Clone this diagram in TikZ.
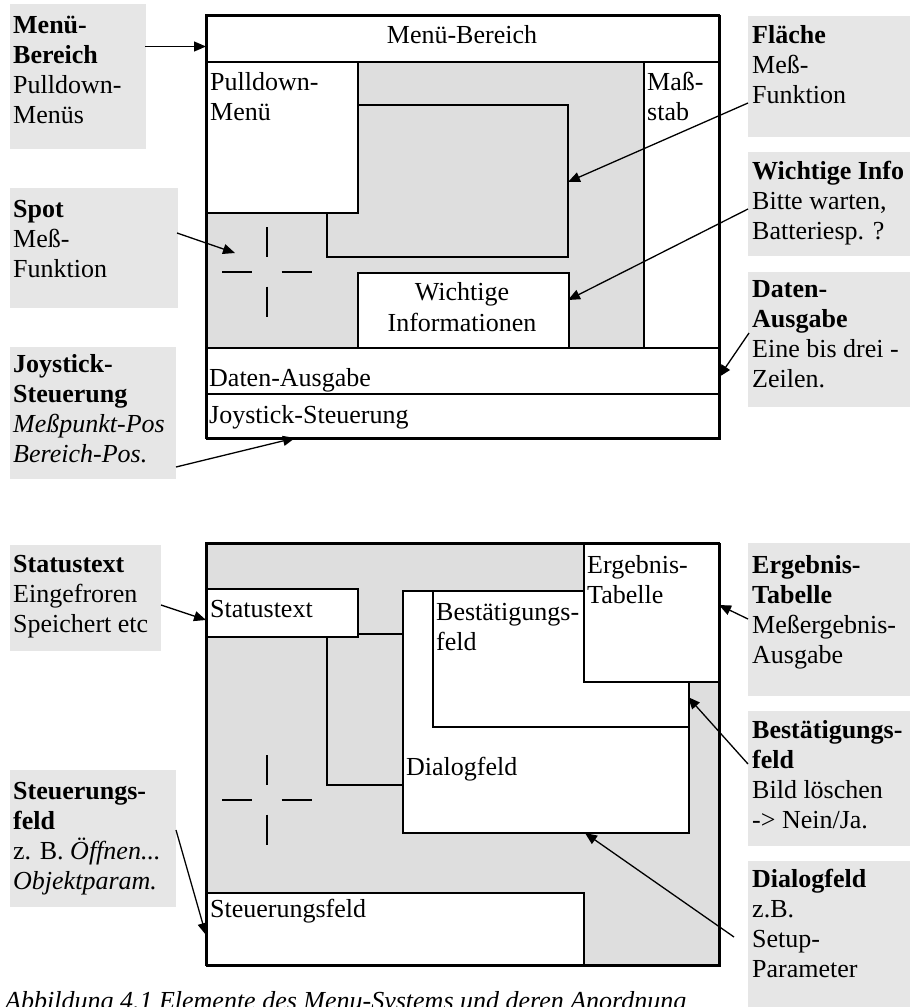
\documentclass[tikz,border=0pt]{standalone}
\usepackage{fontspec}
\setmainfont{Liberation Serif}
\usetikzlibrary{arrows.meta}
\definecolor{dgray}{HTML}{DEDEDE}
\definecolor{lgray}{HTML}{E6E6E6}
\begin{document}
\begin{tikzpicture}[x=1pt,y=-1pt,
  txt/.style={font=\fontsize{26}{30}\selectfont, inner sep=0pt, align=left, anchor=base west},
  ctxt/.style={font=\fontsize{26}{31}\selectfont, inner sep=0pt, align=center, anchor=base},
  wbox/.style={draw, line width=1.8pt, fill=white, inner sep=0pt, anchor=north west},
  gbox/.style={draw, line width=1.8pt, fill=dgray, inner sep=0pt, anchor=north west},
  lab/.style={fill=lgray, inner sep=0pt, anchor=north west},
  arr/.style={line width=1.3pt, -{Triangle[length=12pt,width=10pt]}},
  lin/.style={line width=1.8pt},
  crs/.style={line width=2pt}
]
\useasboundingbox (0,0) rectangle (910,1007);

% ---------- label boxes ----------
\node[lab, minimum width=136pt, minimum height=145pt] (lmenu) at (10,4) {};
\node[lab, minimum width=168pt, minimum height=120pt] (lspot) at (10,188) {};
\node[lab, minimum width=166pt, minimum height=132pt] (ljoy) at (10,347) {};
\node[lab, minimum width=162pt, minimum height=121pt] (rfl) at (748,16) {};
\node[lab, minimum width=162pt, minimum height=104pt] (rwi) at (748,152) {};
\node[lab, minimum width=162pt, minimum height=135pt] (rda) at (748,272) {};
\node[lab, minimum width=151pt, minimum height=106pt] (lst) at (10,545) {};
\node[lab, minimum width=166pt, minimum height=137pt] (lsf) at (10,770) {};
\node[lab, minimum width=162pt, minimum height=153pt] (rer) at (748,543) {};
\node[lab, minimum width=162pt, minimum height=135pt] (rbe) at (748,711) {};
\node[lab, minimum width=162pt, minimum height=150pt] (rdi) at (748,861) {};

% base anchor = baseline of the last line
\node[txt] (tlmenu) at (13,123) {\textbf{Menü-}\\\textbf{Bereich}\\Pulldown-\\Menüs};
\node[txt] (tlspot) at (13,277) {\textbf{Spot}\\Meß-\\Funktion};
\node[txt] (tljoy) at (13,462) {\textbf{Joystick-}\\\textbf{Steuerung}\\\textit{Meßpunkt-Pos}\\\textit{Bereich-Pos.}};
\node[txt] (trfl) at (752,103) {\textbf{Fläche}\\Meß-\\Funktion};
\node[txt] (trwi) at (752,239) {\textbf{Wichtige Info}\\Bitte warten,\\Batteriesp. ?};
\node[txt] (trda) at (752,387) {\textbf{Daten-}\\\textbf{Ausgabe}\\Eine bis drei -\\Zeilen.};
\node[txt] (tlst) at (13,632) {\textbf{Statustext}\\Eingefroren\\Speichert etc};
\node[txt] (tlsf) at (13,889) {\textbf{Steuerungs-}\\\textbf{feld}\\z. B. \textit{Öffnen...}\\\textit{Objektparam.}};
\node[txt] (trer) at (752,663) {\textbf{Ergebnis-}\\\textbf{Tabelle}\\Meßergebnis-\\Ausgabe};
\node[txt] (trbe) at (752,828) {\textbf{Bestätigungs-}\\\textbf{feld}\\Bild löschen\\-> Nein/Ja.};
\node[txt] (trdi) at (752,977) {\textbf{Dialogfeld}\\z.B.\\Setup-\\Parameter};

% ---------- top diagram ----------
\node[gbox, minimum width=513pt, minimum height=423pt] (outer1) at (206,15) {};
\node[wbox, minimum width=513pt, minimum height=46pt] (menubar) at (206,15) {};
\node[wbox, minimum width=76pt, minimum height=286pt] (mass) at (643,61) {};
\node[wbox, minimum width=151pt, minimum height=151pt] (pull) at (206,61) {};
\draw[lin] (357,105) -- (568,105) -- (568,257) -- (327,257) -- (327,212);
\node[wbox, minimum width=211pt, minimum height=75pt] (wich) at (357,272) {};
\node[wbox, minimum width=513pt, minimum height=46pt] (daten) at (206,347) {};
\node[wbox, minimum width=513pt, minimum height=45pt] (joy) at (206,393) {};
\draw[lin] (206,15) rectangle (719,438);

\coordinate (c1) at (266.5,271.7);
\draw[crs] ([yshift=-15pt]c1) -- ([yshift=-45pt]c1);
\draw[crs] ([yshift=15pt]c1) -- ([yshift=45pt]c1);
\draw[crs] ([xshift=-15pt]c1) -- ([xshift=-45pt]c1);
\draw[crs] ([xshift=15pt]c1) -- ([xshift=45pt]c1);

\node[ctxt] (tmenubar) at (462,43) {Menü-Bereich};
\node[txt] (tpull) at (210,120) {Pulldown-\\Menü};
\node[txt] (tmass) at (647,120) {Maß-\\stab};
\node[ctxt] (twich) at (462,331) {Wichtige\\Informationen};
\node[txt] (tdaten) at (209,386) {Daten-Ausgabe};
\node[txt] (tjoy) at (209,423) {Joystick-Steuerung};

% ---------- bottom diagram ----------
\node[gbox, minimum width=513pt, minimum height=422pt] (outer2) at (206,543) {};
\node[wbox, minimum width=151pt, minimum height=48pt] (stat) at (206,588) {};
\draw[lin] (357,634) -- (402,634);
\draw[lin] (327,636) -- (327,785) -- (402,785);
\node[wbox, minimum width=286pt, minimum height=242pt] (dialog) at (402,590) {};
\node[wbox, minimum width=256pt, minimum height=136pt] (best) at (432,590) {};
\node[wbox, minimum width=136pt, minimum height=138pt] (erg) at (583,543) {};
\node[wbox, minimum width=377pt, minimum height=73pt] (steu) at (206,892) {};
\draw[lin] (206,543) rectangle (719,965);

\coordinate (c2) at (266.5,799.5);
\draw[crs] ([yshift=-15pt]c2) -- ([yshift=-45pt]c2);
\draw[crs] ([yshift=15pt]c2) -- ([yshift=45pt]c2);
\draw[crs] ([xshift=-15pt]c2) -- ([xshift=-45pt]c2);
\draw[crs] ([xshift=15pt]c2) -- ([xshift=45pt]c2);

\node[txt] (terg) at (587,603) {Ergebnis-\\Tabelle};
\node[txt] (tstat) at (210,617) {Statustext};
\node[txt] (tbest) at (436,650) {Bestätigungs-\\feld};
\node[txt] (tdialog) at (406,775) {Dialogfeld};
\node[txt] (tsteu) at (210,917) {Steuerungsfeld};

% ---------- arrows ----------
\coordinate (a1s) at (145,46.5);  \coordinate (a1e) at (206,46.5);
\coordinate (a2s) at (177,233);   \coordinate (a2e) at (235,253);
\coordinate (a3s) at (176,467);   \coordinate (a3e) at (295,438);
\coordinate (a4s) at (748,103);   \coordinate (a4e) at (568,182);
\coordinate (a5s) at (748,209);   \coordinate (a5e) at (568,300);
\coordinate (a6s) at (749,333);   \coordinate (a6e) at (719,377);
\coordinate (a7s) at (161,605);   \coordinate (a7e) at (206,620);
\coordinate (a8s) at (176,830);   \coordinate (a8e) at (206,935);
\coordinate (a9s) at (748,619);   \coordinate (a9e) at (719,605);
\coordinate (a10s) at (748,764); \coordinate (a10e) at (688,697);
\coordinate (a11s) at (734,937); \coordinate (a11e) at (585,833);
\foreach \i in {1,...,11} {\draw[arr] (a\i s) -- (a\i e);}

% ---------- caption (cut off at the lower edge, as in the reference) ----------
\node[txt, font=\fontsize{26}{30}\selectfont\itshape] (caption) at (5,1009) {Abbildung 4.1 Elemente des Menu-Systems und deren Anordnung};
\end{tikzpicture}
\end{document}
